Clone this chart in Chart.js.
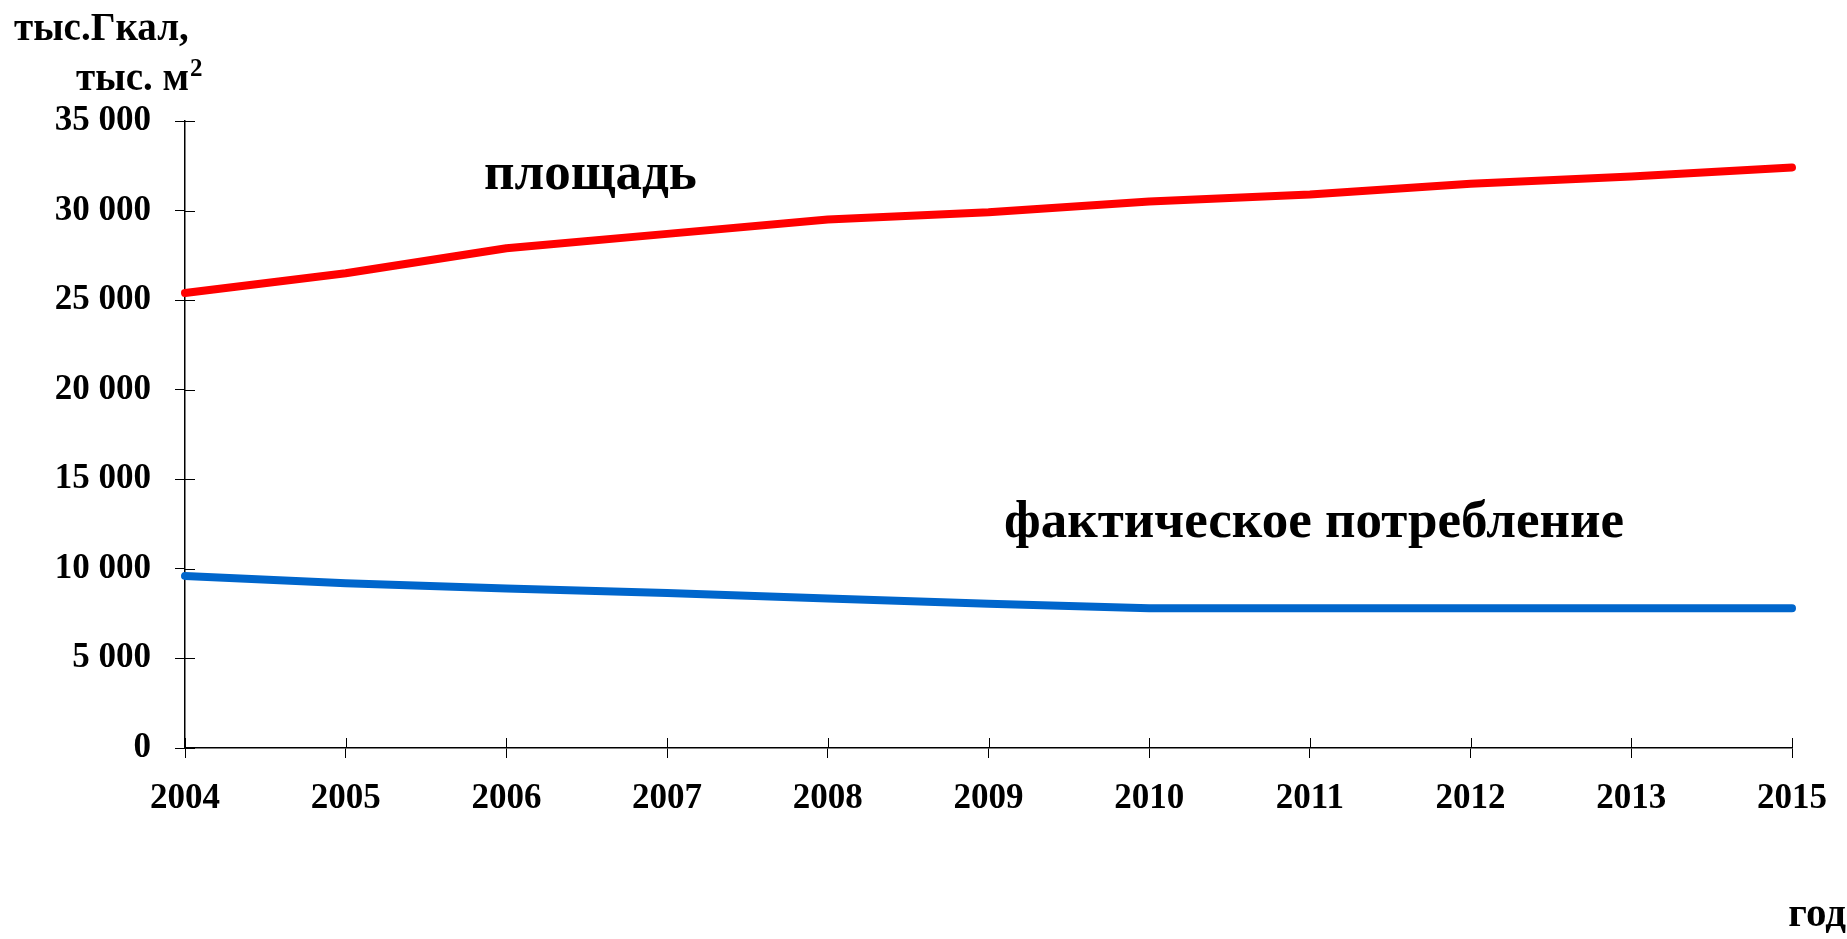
<!DOCTYPE html>
<html lang="ru">
<head>
<meta charset="UTF-8">
<title>площадь и фактическое потребление</title>
<script src="https://cdn.jsdelivr.net/npm/chart.js"></script>
<style>
    html, body { margin: 0; padding: 0; background: #fff; }
    canvas { display: block; }
</style>
</head>
<body>
<canvas id="myLineChart" width="1847" height="939"></canvas>
<script>
// data
var years = ['2004', '2005', '2006', '2007', '2008', '2009', '2010', '2011', '2012', '2013', '2015'];
var area = [25400, 26500, 27900, 28700, 29500, 29900, 30500, 30900, 31500, 31900, 32400];
var consumption = [9600, 9200, 8900, 8650, 8350, 8050, 7800, 7800, 7800, 7800, 7800];
var yTicks = [0, 5000, 10000, 15000, 20000, 25000, 30000, 35000];

var fontFamily = '"Liberation Serif", "Times New Roman", serif';

function formatThousands(v) {
    return String(v).replace(/\B(?=(\d{3})+(?!\d))/g, ' ');
}

// ticks in the original cross the axis line, chart.js only draws the outer half
var crossTicks = {
    id: 'crossTicks',
    afterDraw: function (chart) {
        var c = chart.ctx;
        var x = chart.scales.x;
        var y = chart.scales.y;
        c.save();
        c.strokeStyle = '#000';
        c.lineWidth = 1;
        c.beginPath();
        for (var i = 0; i < x.ticks.length; i++) {
            var px = Math.round(x.getPixelForTick(i)) + 0.5;
            c.moveTo(px, y.bottom);
            c.lineTo(px, y.bottom - 10);
        }
        for (var j = 0; j < y.ticks.length; j++) {
            var py = Math.round(y.getPixelForTick(j)) + 0.5;
            c.moveTo(x.left, py);
            c.lineTo(x.left + 10, py);
        }
        c.stroke();
        c.restore();
    }
};

var textLabels = {
    id: 'textLabels',
    afterDraw: function (chart) {
        var c = chart.ctx;
        c.save();
        c.fillStyle = '#000';
        c.textBaseline = 'alphabetic';

        c.font = 'bold 39px ' + fontFamily;
        c.textAlign = 'left';
        c.fillText('тыс.Гкал,', 14, 40);
        c.textAlign = 'right';
        c.fillText('тыс. м', 189, 90);
        c.font = 'bold 25px ' + fontFamily;
        c.textAlign = 'left';
        c.fillText('2', 190, 76);

        c.font = 'bold 53px ' + fontFamily;
        c.fillText('площадь', 484, 189);
        c.fillText('фактическое потребление', 1004, 537);

        c.font = 'bold 41px ' + fontFamily;
        c.textAlign = 'right';
        c.fillText('год', 1846, 926);
        c.restore();
    }
};

var ctx = document.getElementById('myLineChart').getContext('2d');
var myLineChart = new Chart(ctx, {
    type: 'line',
    data: {
        labels: years,
        datasets: [{
            label: 'площадь',
            data: area,
            borderColor: '#ff0000',
            backgroundColor: '#ff0000',
            borderWidth: 8,
            pointRadius: 0,
            tension: 0,
            borderCapStyle: 'round',
            borderJoinStyle: 'round',
            clip: 10
        }, {
            label: 'фактическое потребление',
            data: consumption,
            borderColor: '#0066cc',
            backgroundColor: '#0066cc',
            borderWidth: 8,
            pointRadius: 0,
            tension: 0,
            borderCapStyle: 'round',
            borderJoinStyle: 'round',
            clip: 10
        }]
    },
    options: {
        responsive: false,
        animation: false,
        devicePixelRatio: 1,
        layout: { padding: { left: 0, top: 121, right: 54, bottom: 0 } },
        plugins: {
            legend: { display: false },
            tooltip: { enabled: false }
        },
        scales: {
            x: {
                offset: false,
                grid: { display: true, drawOnChartArea: false, drawTicks: true, tickLength: 10, color: '#000', lineWidth: 1 },
                border: { display: true, color: '#000', width: 1.5 },
                ticks: {
                    color: '#000',
                    padding: 20,
                    maxRotation: 0,
                    autoSkip: false,
                    font: { family: fontFamily, size: 35, weight: 'bold' }
                },
                afterFit: function (scale) { scale.height = 191; }
            },
            y: {
                min: 0,
                max: 35000,
                afterBuildTicks: function (scale) {
                    scale.ticks = yTicks.map(function (v) { return { value: v }; });
                },
                grid: { display: true, drawOnChartArea: false, drawTicks: true, tickLength: 10, color: '#000', lineWidth: 1 },
                border: { display: true, color: '#000', width: 1.5 },
                ticks: {
                    color: '#000',
                    padding: 24,
                    font: { family: fontFamily, size: 35, weight: 'bold' },
                    callback: function (v) { return formatThousands(v); }
                },
                afterFit: function (scale) { scale.width = 185; }
            }
        }
    },
    plugins: [crossTicks, textLabels]
});
</script>
</body>
</html>
